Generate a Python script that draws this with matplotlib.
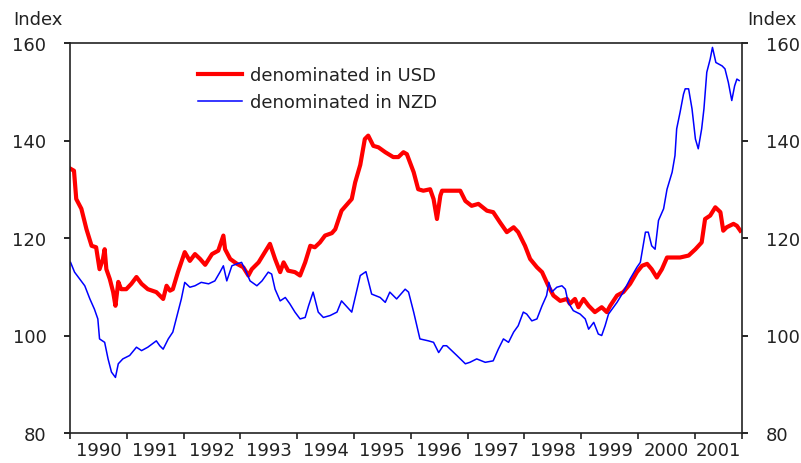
import matplotlib
matplotlib.use("Agg")
import matplotlib.pyplot as plt
import numpy as np

# ---- data (decimal years, index values) ----
usd_t = [1990.01, 1990.07, 1990.11, 1990.20, 1990.29, 1990.38, 1990.46, 1990.52, 1990.58,
         1990.61, 1990.64, 1990.70, 1990.76, 1990.80, 1990.85, 1990.90, 1990.99, 1991.08,
         1991.17, 1991.26, 1991.37, 1991.52, 1991.64, 1991.70, 1991.76, 1991.81, 1991.90,
         1992.02, 1992.11, 1992.20, 1992.29, 1992.38, 1992.50, 1992.61, 1992.70, 1992.73,
         1992.82, 1992.94, 1993.05, 1993.14, 1993.20, 1993.32, 1993.43, 1993.52, 1993.61,
         1993.70, 1993.76, 1993.84, 1993.96, 1994.05, 1994.14, 1994.23, 1994.31, 1994.40,
         1994.49, 1994.61, 1994.67, 1994.78, 1994.96, 1995.02, 1995.11, 1995.19, 1995.25,
         1995.34, 1995.43, 1995.55, 1995.69, 1995.78, 1995.87, 1995.93, 1996.05, 1996.13,
         1996.22, 1996.34, 1996.40, 1996.46, 1996.52, 1996.55, 1996.72, 1996.87, 1996.96,
         1997.07, 1997.19, 1997.34, 1997.45, 1997.57, 1997.69, 1997.81, 1997.89, 1998.01,
         1998.10, 1998.22, 1998.31, 1998.42, 1998.51, 1998.63, 1998.75, 1998.80, 1998.89,
         1998.95, 1999.04, 1999.13, 1999.24, 1999.36, 1999.45, 1999.51, 1999.63, 1999.74,
         1999.86, 1999.98, 2000.07, 2000.16, 2000.24, 2000.33, 2000.42, 2000.51, 2000.60,
         2000.74, 2000.89, 2001.01, 2001.12, 2001.18, 2001.27, 2001.36, 2001.45, 2001.50,
         2001.56, 2001.68, 2001.74, 2001.80]
usd_v = [134.2, 133.8, 128.0, 126.0, 121.8, 118.4, 118.1, 113.6, 115.7,
         117.7, 113.6, 111.6, 108.9, 106.1, 111.0, 109.5, 109.5, 110.6,
         112.0, 110.6, 109.5, 108.9, 107.5, 110.2, 109.2, 109.5, 113.0,
         117.1, 115.3, 116.7, 115.7, 114.5, 116.7, 117.4, 120.5, 117.7,
         115.7, 114.7, 114.0, 112.3, 113.6, 115.0, 117.1, 118.8, 115.7,
         113.0, 115.0, 113.3, 113.0, 112.3, 115.0, 118.4, 118.1, 119.1,
         120.5, 121.0, 121.8, 125.6, 128.0, 131.4, 135.0, 140.3, 141.0,
         138.9, 138.6, 137.6, 136.6, 136.6, 137.6, 137.2, 133.5, 130.0,
         129.7, 130.0, 128.0, 123.9, 128.7, 129.7, 129.7, 129.7, 127.6,
         126.6, 127.0, 125.6, 125.3, 123.2, 121.2, 122.2, 121.2, 118.4,
         115.7, 114.0, 113.0, 110.2, 108.2, 107.1, 107.5, 106.5, 107.5,
         105.8, 107.5, 106.1, 104.8, 105.8, 104.8, 106.1, 108.2, 108.9,
         110.6, 113.0, 114.3, 114.7, 113.6, 111.9, 113.6, 116.0, 116.0,
         116.0, 116.4, 117.7, 119.1, 123.9, 124.6, 126.3, 125.3, 121.5,
         122.2, 122.9, 122.5, 121.5]

nzd_t = [1990.01, 1990.08, 1990.17, 1990.26, 1990.35, 1990.43, 1990.49, 1990.52, 1990.61,
         1990.67, 1990.73, 1990.80, 1990.85, 1990.93, 1991.05, 1991.17, 1991.26, 1991.37,
         1991.52, 1991.58, 1991.64, 1991.73, 1991.81, 1991.87, 1991.96, 1992.02, 1992.11,
         1992.20, 1992.31, 1992.44, 1992.55, 1992.64, 1992.70, 1992.76, 1992.85, 1992.94,
         1993.02, 1993.08, 1993.17, 1993.29, 1993.38, 1993.49, 1993.55, 1993.61, 1993.70,
         1993.79, 1993.87, 1993.96, 1994.05, 1994.14, 1994.20, 1994.28, 1994.37, 1994.46,
         1994.58, 1994.70, 1994.78, 1994.96, 1995.11, 1995.21, 1995.31, 1995.46, 1995.55,
         1995.63, 1995.75, 1995.90, 1995.96, 1996.05, 1996.16, 1996.31, 1996.40, 1996.49,
         1996.57, 1996.63, 1996.81, 1996.96, 1997.04, 1997.16, 1997.31, 1997.45, 1997.54,
         1997.63, 1997.72, 1997.81, 1997.89, 1997.98, 1998.04, 1998.13, 1998.22, 1998.31,
         1998.39, 1998.43, 1998.48, 1998.57, 1998.66, 1998.72, 1998.77, 1998.86, 1998.98,
         1999.07, 1999.13, 1999.22, 1999.30, 1999.36, 1999.42, 1999.48, 1999.63, 1999.74,
         1999.86, 1999.98, 2000.04, 2000.07, 2000.13, 2000.18, 2000.24, 2000.30, 2000.36,
         2000.45, 2000.51, 2000.60, 2000.65, 2000.68, 2000.74, 2000.80, 2000.83, 2000.89,
         2000.95, 2001.01, 2001.06, 2001.12, 2001.16, 2001.21, 2001.27, 2001.31, 2001.37,
         2001.48, 2001.53, 2001.59, 2001.65, 2001.70, 2001.74, 2001.78]
nzd_v = [115.0, 113.0, 111.6, 110.2, 107.5, 105.4, 103.4, 99.3, 98.6,
         95.2, 92.5, 91.4, 94.2, 95.2, 95.9, 97.6, 96.9, 97.6,
         98.9, 97.9, 97.2, 99.3, 100.7, 103.4, 107.5, 110.9, 109.9,
         110.2, 110.9, 110.6, 111.2, 113.0, 114.3, 111.2, 114.3, 114.7,
         115.0, 113.6, 111.2, 110.2, 111.2, 113.0, 112.6, 109.5, 107.1,
         107.8, 106.5, 104.8, 103.4, 103.7, 106.1, 108.9, 104.8, 103.7,
         104.1, 104.8, 107.1, 104.8, 112.3, 113.1, 108.5, 107.8, 106.8,
         108.9, 107.5, 109.5, 108.9, 104.8, 99.3, 98.9, 98.6, 96.5,
         97.9, 97.9, 95.9, 94.2, 94.5, 95.2, 94.5, 94.8, 97.2,
         99.3, 98.6, 100.7, 102.0, 104.8, 104.4, 103.0, 103.4, 106.1,
         108.2, 110.9, 108.9, 109.9, 110.2, 109.5, 106.8, 105.1, 104.4,
         103.4, 101.3, 102.7, 100.3, 100.0, 102.0, 104.4, 106.8, 108.9,
         111.6, 114.0, 115.0, 117.1, 121.2, 121.2, 118.4, 117.7, 123.6,
         126.0, 130.0, 133.5, 136.9, 142.4, 145.8, 149.5, 150.6, 150.6,
         146.5, 140.3, 138.3, 142.4, 146.5, 154.0, 156.7, 159.1, 156.0,
         155.3, 154.7, 151.9, 148.2, 151.2, 152.6, 152.3]

years = list(range(1990, 2002))
year_labels = [str(y) for y in years]
y_ticks = [80, 100, 120, 140, 160]
series_labels = ["denominated in USD", "denominated in NZD"]

plt.rcParams['font.family'] = ['DejaVu Sans']
fig = plt.figure(figsize=(8.01, 4.64), dpi=100)
ax = fig.add_axes([70/801, 30/464, 672/801, 390/464])

ax.plot(usd_t, usd_v, color='#ff0000', lw=3.0, label=series_labels[0], solid_joinstyle='round')
ax.plot(nzd_t, nzd_v, color='#0000ff', lw=1.1, label=series_labels[1])

ax.set_xlim(1990, 2001.83)
ax.set_ylim(80, 160)

# year boundaries as major ticks, labels centered in each year
ax.set_xticks(years + [2001.83])
ax.set_xticklabels([])
ax.set_xticks([y + 0.5 for y in years[:-1]] + [2001.415], minor=True)
ax.set_xticklabels(year_labels, minor=True)
ax.tick_params(axis='x', which='major', direction='out', length=4, width=1.2, color='#222222')
ax.tick_params(axis='x', which='minor', length=0, pad=6, labelsize=13, labelcolor='#222222')

ax.set_yticks(y_ticks)
ax.tick_params(axis='y', which='both', direction='out', length=4, width=1.2, pad=13,
               labelsize=13, labelcolor='#222222', left=True, right=True,
               labelleft=True, labelright=True)

for s in ax.spines.values():
    s.set_linewidth(1.2)
    s.set_color('#222222')

fig.text(13/801, 1 - 25/464, "Index", fontsize=13, color='#222222', ha='left', va='baseline')
fig.text(797/801, 1 - 25/464, "Index", fontsize=13, color='#222222', ha='right', va='baseline')

leg = ax.legend(loc='upper left', bbox_to_anchor=(0.19, 0.94), frameon=False,
                handlelength=2.45, handletextpad=0.45, borderpad=0, borderaxespad=0,
                labelspacing=0.5, fontsize=13)
for t in leg.get_texts():
    t.set_color('#222222')

fig.savefig("out.png", dpi=100)
